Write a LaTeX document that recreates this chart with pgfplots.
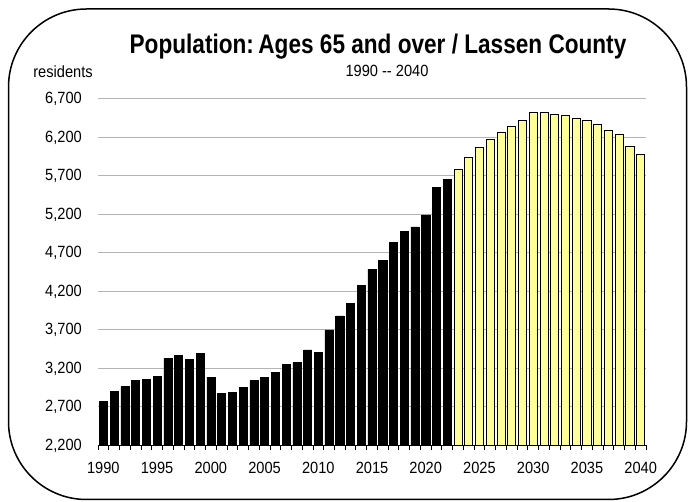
\documentclass[border=0pt]{standalone}
\usepackage{pgfplots}
\pgfplotsset{compat=1.18}
\usepackage{fontspec}
\setmainfont{Liberation Sans}
\newfontfamily\narrowfont[FakeStretch=0.9]{Liberation Sans}
\newfontfamily\titlefont[FakeStretch=0.84]{Liberation Sans}
\definecolor{paleyellow}{HTML}{FFFF99}
\definecolor{gridgray}{HTML}{B4B4B4}
\begin{document}
\begin{tikzpicture}[x=1bp,y=1bp]
\useasboundingbox (0,0) rectangle (688,502);
\draw[line width=1.5bp, rounded corners=78bp] (8.5,2.5) rectangle (686.5,493);
\node[anchor=base, inner sep=0pt, font=\titlefont\bfseries\fontsize{27}{30}\selectfont] at (378,448) {Population:\,Ages 65 and over / Lassen County};
\node[anchor=base, inner sep=0pt, font=\narrowfont\fontsize{16.3}{18}\selectfont] at (387,425) {1990 -{}- 2040};
\node[anchor=base, inner sep=0pt, font=\narrowfont\fontsize{16.3}{18}\selectfont] at (63,424) {residents};
\begin{axis}[
  at={(98bp,56.5bp)}, anchor=south west,
  scale only axis, width=548bp, height=346.5bp,
  xmin=1989.5, xmax=2040.5, ymin=2200, ymax=6700,
  axis x line*=bottom, axis y line*=left,
  y axis line style={draw=none},
  ytick={2200,2700,...,6700},
  xtick={1990,1995,...,2040},
  minor xtick={1989.5,1990.5,...,2040.5},
  major tick length=0pt, minor tick length=5bp,
  tick align=outside,
  x axis line style={black, line width=1.2bp},
  minor tick style={black, line width=0.8bp},
  ymajorgrids, grid style={gridgray, line width=1bp},
  ybar, bar width=0.75, bar shift=0pt,
  xticklabel style={font=\narrowfont\fontsize{16.3}{18}\selectfont, anchor=base, inner sep=0pt, yshift=-28bp},
  xticklabels={1990,1995,2000,2005,2010,2015,2020,2025,2030,2035,2040},
  yticklabel style={font=\narrowfont\fontsize{16.3}{18}\selectfont, anchor=east, inner sep=0pt, xshift=-16bp},
  yticklabels={2{,}200,2{,}700,3{,}200,3{,}700,4{,}200,4{,}700,5{,}200,5{,}700,6{,}200,6{,}700},
  clip=false,
]
\addplot[fill=black, draw=black, line width=0.5bp] coordinates {
(1990,2770) (1991,2900) (1992,2965) (1993,3042) (1994,3055) (1995,3099)
(1996,3334) (1997,3373) (1998,3321) (1999,3399) (2000,3087) (2001,2874)
(2002,2887) (2003,2957) (2004,3042) (2005,3087) (2006,3152) (2007,3256)
(2008,3281) (2009,3441) (2010,3411) (2011,3701) (2012,3883) (2013,4043)
(2014,4277) (2015,4490) (2016,4607) (2017,4841) (2018,4984) (2019,5040)
(2020,5196) (2021,5551) (2022,5655)
};
\addplot[fill=paleyellow, draw=black, line width=0.8bp] coordinates {
(2023,5790) (2024,5941) (2025,6071) (2026,6171) (2027,6271) (2028,6349)
(2029,6427) (2030,6522) (2031,6531) (2032,6505) (2033,6487) (2034,6453)
(2035,6427) (2036,6370) (2037,6297) (2038,6236) (2039,6084) (2040,5976)
};
\end{axis}
\end{tikzpicture}
\end{document}
